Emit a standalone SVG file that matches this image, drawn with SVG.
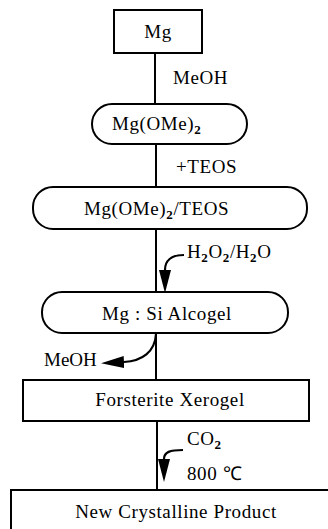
<svg xmlns="http://www.w3.org/2000/svg" width="328" height="529" viewBox="0 0 328 529">
  <style>
    .box { fill: #fff; stroke: #000; stroke-width: 2; }
    .link { fill: none; stroke: #000; stroke-width: 2; }
    .curve { fill: none; stroke: #000; stroke-width: 2.2; }
    text { font-family: "Liberation Serif", "Times New Roman", serif; font-size: 19px; letter-spacing: 0.6px; fill: #000; }
    .lbl { text-anchor: start; }
    .mid { text-anchor: middle; }
    .tight { letter-spacing: 0; }
    .sub { font-size: 13px; font-weight: bold; }
  </style>
  <defs>
    <marker id="head" markerUnits="userSpaceOnUse" markerWidth="24" markerHeight="12" refX="0" refY="6" orient="auto">
      <path d="M0,0 L23,6 L0,12 Z" fill="#000"/>
    </marker>
  </defs>
  <rect width="328" height="529" fill="#fff"/>

  <!-- connectors -->
  <g id="connectors">
    <line class="link" x1="155" y1="53" x2="155" y2="104"/>
    <line class="link" x1="156" y1="144" x2="156" y2="187"/>
    <line class="link" x1="156" y1="229" x2="156" y2="292"/>
    <line class="link" x1="156" y1="333" x2="156" y2="380"/>
    <line class="link" x1="157" y1="421" x2="157" y2="490"/>
    <!-- reagent in: H2O2/H2O -->
    <path class="curve" d="M184,255 C171,255 165,261 165,270" marker-end="url(#head)"/>
    <!-- by-product out: MeOH -->
    <path class="curve" d="M156,334 C155,352 142,361 124,362" marker-end="url(#head)"/>
    <!-- reagent in: CO2 -->
    <path class="curve" d="M183,450 C170,450 164,452 164,459" marker-end="url(#head)"/>
  </g>

  <!-- step labels -->
  <g id="labels">
    <text class="lbl" x="173" y="84">MeOH</text>
    <text class="lbl" x="176" y="173">+TEOS</text>
    <text class="lbl" x="187" y="258">H<tspan class="sub" dy="4">2</tspan><tspan dy="-4">O</tspan><tspan class="sub" dy="4">2</tspan><tspan dy="-4">/H</tspan><tspan class="sub" dy="4">2</tspan><tspan dy="-4">O</tspan></text>
    <text class="lbl tight" x="44" y="366">MeOH</text>
    <text class="lbl" x="187" y="445">CO<tspan class="sub" dy="4">2</tspan></text>
    <text class="lbl" x="187" y="480">800 ℃</text>
  </g>

  <g id="mg">
    <rect class="box" x="114" y="10" width="88" height="43"/>
    <text class="mid" x="158" y="38">Mg</text>
  </g>

  <g id="mg-ome2">
    <rect class="box" x="92" y="104" width="155" height="40" rx="20" ry="20"/>
    <text class="lbl" x="112" y="130">Mg(OMe)<tspan class="sub" dy="4">2</tspan></text>
  </g>

  <g id="mg-ome2-teos">
    <rect class="box" x="33" y="187" width="274" height="42" rx="20" ry="20"/>
    <text class="lbl" x="84" y="215">Mg(OMe)<tspan class="sub" dy="4">2</tspan><tspan dy="-4">/TEOS</tspan></text>
  </g>

  <g id="alcogel">
    <rect class="box" x="42" y="292" width="246" height="41" rx="20" ry="20"/>
    <text class="mid" x="167" y="320">Mg : Si Alcogel</text>
  </g>

  <g id="xerogel">
    <rect class="box" x="23" y="380" width="286" height="41"/>
    <text class="mid" x="170" y="406">Forsterite Xerogel</text>
  </g>

  <g id="product">
    <rect class="box" x="11" y="490" width="330" height="60"/>
    <text class="mid" x="176" y="518">New Crystalline Product</text>
  </g>
</svg>
